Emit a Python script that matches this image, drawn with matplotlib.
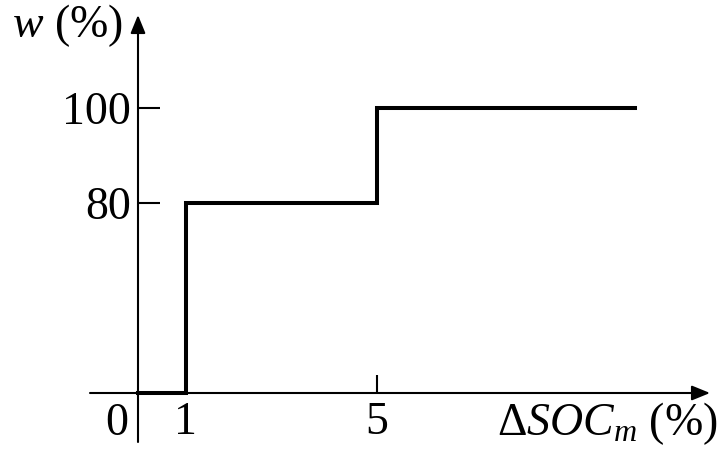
import numpy as np
import matplotlib
matplotlib.use('Agg')
import matplotlib.pyplot as plt

# ---- data ----
x_steps = [0, 1, 5, 10.4]
w_steps = [0, 80, 100, 100]
x_ticks = [1, 5]
x_tick_labels = ['1', '5']
y_ticks = [80, 100]
y_tick_labels = ['80', '100']

plt.rcParams['font.family'] = ['Liberation Serif', 'DejaVu Serif']
plt.rcParams['mathtext.fontset'] = 'custom'
plt.rcParams['mathtext.rm'] = 'Liberation Serif'
plt.rcParams['mathtext.it'] = 'Liberation Serif:italic'


# schematic (broken) y-axis: 0..80 compressed, 80..100 expanded
def fwd(y):
    y = np.asarray(y, float)
    return np.where(y <= 80, y * 2.375, 190 + (y - 80) * 4.75)


def inv(t):
    t = np.asarray(t, float)
    return np.where(t <= 190, t / 2.375, 80 + (t - 190) / 4.75)


W, H = 724, 455
fig = plt.figure(figsize=(W / 100, H / 100), dpi=100)
ax = fig.add_axes([0, 0, 1, 1])
ax.set_yscale('function', functions=(fwd, inv))
ux = 47.75
x0px, y0px = 138, 393
ax.set_xlim(-x0px / ux, (W - x0px) / ux)
ax.set_ylim(float(inv(-(H - y0px))), float(inv(y0px)))

for s in ['top', 'right']:
    ax.spines[s].set_visible(False)
ax.spines['left'].set_position(('data', 0))
ax.spines['bottom'].set_position(('data', 0))
ax.spines['left'].set_visible(False)
ax.spines['bottom'].set_visible(False)

# axes with arrows
aprops = dict(arrowstyle='-|>,head_length=1.1,head_width=0.45', lw=1.5,
              color='black', shrinkA=0, shrinkB=0, mutation_scale=10)
ax.annotate('', xy=((710 - x0px) / ux, 0), xytext=((90 - x0px) / ux, 0),
            arrowprops=aprops, annotation_clip=False)
ax.annotate('', xy=(0, float(inv(y0px - 15))), xytext=(0, float(inv(y0px - 442))),
            arrowprops=aprops, annotation_clip=False)

# ticks
ax.set_xticks(x_ticks)
ax.set_xticklabels(x_tick_labels)
ax.set_yticks(y_ticks)
ax.set_yticklabels(y_tick_labels)
ax.minorticks_off()
ax.tick_params(axis='x', direction='in', length=13, width=1.5, pad=6,
               labelsize=33)
ax.tick_params(axis='y', direction='in', length=16, width=1.5, pad=5,
               labelsize=33)

# step curve
ax.step(x_steps, w_steps, where='post', color='black', lw=2.9, zorder=5,
        solid_joinstyle='miter')

# labels
fig.text(117 / W, 1 - 435 / H, '0', fontsize=33, ha='center', va='baseline')
fig.text(12 / W, 1 - 37 / H, r'$w$ (%)', fontsize=33, ha='left', va='baseline')
fig.text(718 / W, 1 - 435 / H, r'$\Delta SOC_m$ (%)', fontsize=33,
         ha='right', va='baseline')

fig.savefig('out.png', dpi=100)
